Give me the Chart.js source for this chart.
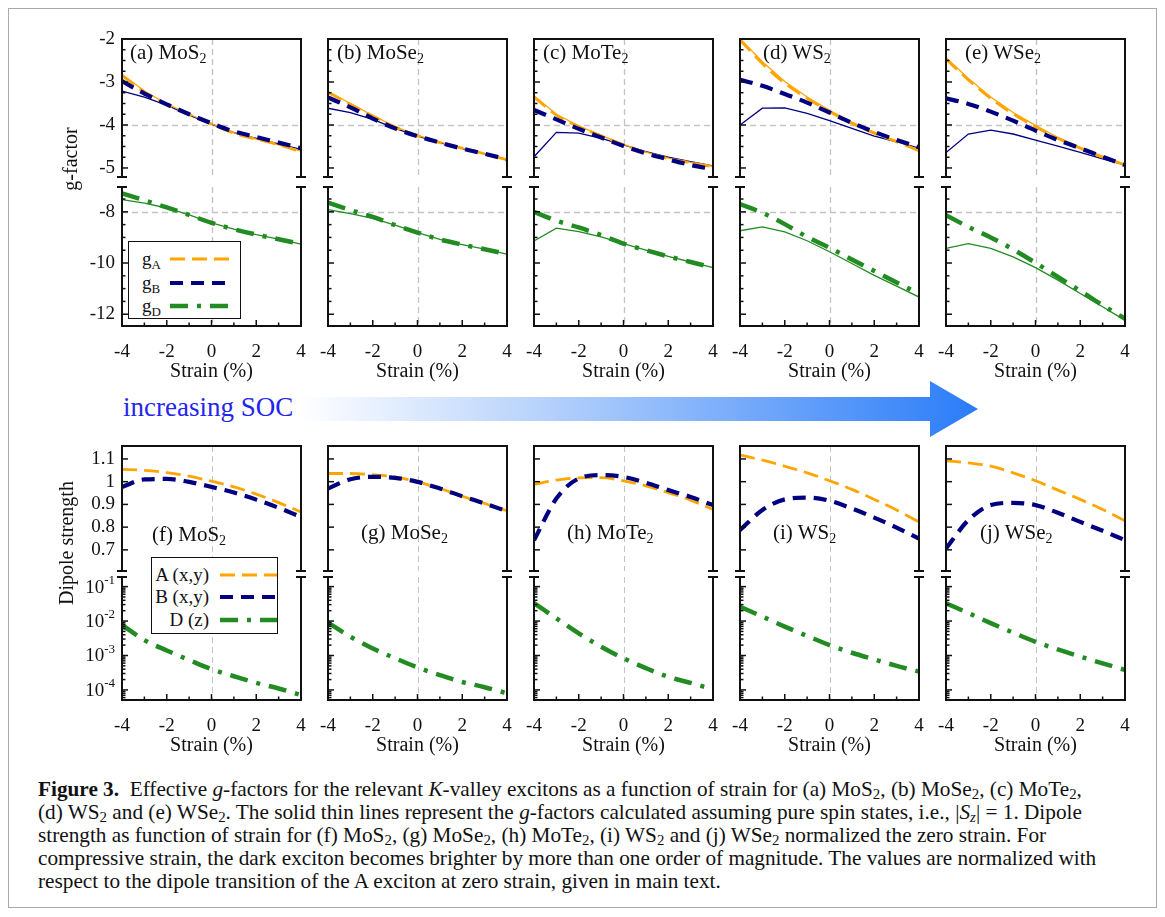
<!DOCTYPE html>
<html><head><meta charset="utf-8">
<script src="https://cdn.jsdelivr.net/npm/chart.js@4.4.1/dist/chart.umd.min.js"></script>
<style>
html,body{margin:0;padding:0;background:#fff;}
body{width:1165px;height:917px;position:relative;overflow:hidden;font-family:"Liberation Serif","Times New Roman",serif;color:#111;}
canvas{position:absolute;}
.plabel{position:absolute;white-space:nowrap;font-size:21px;line-height:22px;}
.plabel sub{font-size:14px;vertical-align:-4px;line-height:0;}
.ytitle{position:absolute;white-space:nowrap;font-size:20px;transform:translate(-50%,-50%) rotate(-90deg);}
.legend{position:absolute;background:#fff;border:1.5px solid #111;box-sizing:border-box;}
.legend .t{position:absolute;white-space:nowrap;font-size:19px;line-height:20px;}
.legend sub{font-size:13px;vertical-align:-4px;line-height:0;}
.legend svg{position:absolute;}
#frame{position:absolute;left:8px;top:8px;width:1149px;height:900px;border:1px solid #aaa;box-sizing:border-box;}
#caption{position:absolute;left:38px;top:778px;font-size:17.5px;line-height:23px;white-space:nowrap;}
#caption div{display:block;}
#caption sub{font-size:0.7em;vertical-align:-3px;line-height:0;}
#soc{position:absolute;left:123px;top:392px;font-size:27px;line-height:30px;color:#2424f0;white-space:nowrap;}
</style></head><body>
<div id="frame"></div>
<svg style="position:absolute;left:0;top:370px" width="1165" height="80">
 <defs><linearGradient id="ag" gradientUnits="userSpaceOnUse" x1="298" y1="0" x2="978" y2="0">
  <stop offset="0" stop-color="#ffffff"/><stop offset="0.35" stop-color="#b9d3fb"/><stop offset="1" stop-color="#2a7cf8"/></linearGradient></defs>
 <polygon points="298,27 930,27 930,11 978,39 930,67 930,51 298,51" fill="url(#ag)"/>
</svg>
<div id="soc">increasing SOC</div>
<div id="caption">
<div id="firstline"><b>Figure 3.</b>&nbsp;&nbsp;Effective <i>g</i>-factors for the relevant <i>K</i>-valley excitons as a function of strain for (a) MoS<sub>2</sub>, (b) MoSe<sub>2</sub>, (c) MoTe<sub>2</sub>,</div>
<div>(d) WS<sub>2</sub> and (e) WSe<sub>2</sub>. The solid thin lines represent the <i>g</i>-factors calculated assuming pure spin states, i.e., |<i>S<sub>z</sub></i>| = 1. Dipole</div>
<div>strength as function of strain for (f) MoS<sub>2</sub>, (g) MoSe<sub>2</sub>, (h) MoTe<sub>2</sub>, (i) WS<sub>2</sub> and (j) WSe<sub>2</sub> normalized the zero strain. For</div>
<div>compressive strain, the dark exciton becomes brighter by more than one order of magnitude. The values are normalized with</div>
<div>respect to the dipole transition of the A exciton at zero strain, given in main text.</div>
</div>
<script>
// ---------------- DATA ----------------
const STRAIN = [-4,-3,-2,-1,0,1,2,3,4];
const STRAIN_TICKS = [-4,-2,0,2,4];
const STRAIN_MINOR = [-3,-1,1,3];
const G_TOP_TICKS = [-5,-4,-3,-2];
const G_TOP_MINOR = [-5.25,-4.75,-4.5,-4.25,-3.75,-3.5,-3.25,-2.75,-2.5,-2.25];
const G_BOT_TICKS = [-12,-10,-8];
const G_BOT_MINOR = [-12.5,-11.5,-11,-10.5,-9.5,-9,-8.5,-7.5,-7];
const DIP_TICKS = [0.7,0.8,0.9,1,1.1];
const LOG_TICKS = [1e-4,1e-3,1e-2,1e-1];
const MATERIALS = ['MoS','MoSe','MoTe','WS','WSe'];
const G_LETTERS = ['a','b','c','d','e'];
const D_LETTERS = ['f','g','h','i','j'];

// g-factors (dashed = full calculation, *0 = pure spin, thin solid)
const MoS2_gA  = [-2.85,-3.23,-3.52,-3.75,-3.98,-4.19,-4.33,-4.46,-4.62];
const MoS2_gA0 = [-2.82,-3.21,-3.51,-3.75,-3.97,-4.18,-4.33,-4.46,-4.61];
const MoS2_gB  = [-2.98,-3.27,-3.52,-3.75,-3.96,-4.15,-4.28,-4.41,-4.54];
const MoS2_gB0 = [-3.21,-3.35,-3.54,-3.77,-3.98,-4.18,-4.31,-4.44,-4.57];
const MoS2_gD  = [-7.28,-7.55,-7.83,-8.12,-8.43,-8.68,-8.89,-9.07,-9.26];
const MoS2_gD0 = [-7.52,-7.66,-7.85,-8.12,-8.43,-8.68,-8.89,-9.07,-9.26];

const MoSe2_gA  = [-3.24,-3.52,-3.79,-4.05,-4.25,-4.41,-4.54,-4.67,-4.81];
const MoSe2_gA0 = [-3.22,-3.50,-3.78,-4.04,-4.24,-4.40,-4.54,-4.67,-4.80];
const MoSe2_gB  = [-3.36,-3.59,-3.85,-4.08,-4.26,-4.41,-4.55,-4.67,-4.80];
const MoSe2_gB0 = [-3.61,-3.71,-3.87,-4.08,-4.26,-4.41,-4.55,-4.67,-4.80];
const MoSe2_gD  = [-7.64,-7.93,-8.20,-8.52,-8.81,-9.08,-9.28,-9.46,-9.65];
const MoSe2_gD0 = [-7.91,-8.07,-8.26,-8.52,-8.81,-9.08,-9.28,-9.46,-9.65];

const MoTe2_gA  = [-3.35,-3.77,-4.04,-4.25,-4.46,-4.64,-4.78,-4.88,-4.97];
const MoTe2_gA0 = [-3.32,-3.75,-4.02,-4.24,-4.45,-4.63,-4.77,-4.87,-4.96];
const MoTe2_gB  = [-3.65,-3.87,-4.09,-4.29,-4.49,-4.66,-4.80,-4.93,-5.03];
const MoTe2_gB0 = [-4.74,-4.17,-4.19,-4.31,-4.46,-4.62,-4.75,-4.85,-4.95];
const MoTe2_gD  = [-8.00,-8.35,-8.61,-8.91,-9.24,-9.50,-9.74,-9.96,-10.18];
const MoTe2_gD0 = [-9.14,-8.64,-8.77,-8.98,-9.24,-9.50,-9.74,-9.96,-10.18];

const WS2_gA  = [-2.02,-2.57,-3.03,-3.38,-3.69,-3.96,-4.19,-4.39,-4.60];
const WS2_gA0 = [-1.99,-2.53,-2.99,-3.35,-3.66,-3.93,-4.17,-4.37,-4.58];
const WS2_gB  = [-2.95,-3.09,-3.28,-3.48,-3.71,-3.95,-4.16,-4.35,-4.52];
const WS2_gB0 = [-4.00,-3.61,-3.60,-3.73,-3.90,-4.08,-4.26,-4.39,-4.54];
const WS2_gD  = [-7.70,-8.04,-8.48,-8.98,-9.40,-9.86,-10.31,-10.76,-11.20];
const WS2_gD0 = [-8.74,-8.59,-8.78,-9.13,-9.56,-10.02,-10.48,-10.90,-11.33];

const WSe2_gA  = [-2.47,-2.95,-3.38,-3.74,-4.04,-4.31,-4.54,-4.75,-4.93];
const WSe2_gA0 = [-2.43,-2.92,-3.35,-3.71,-4.01,-4.29,-4.52,-4.73,-4.92];
const WSe2_gB  = [-3.38,-3.51,-3.69,-3.90,-4.13,-4.35,-4.54,-4.74,-4.93];
const WSe2_gB0 = [-4.64,-4.21,-4.12,-4.21,-4.35,-4.49,-4.64,-4.79,-4.93];
const WSe2_gD  = [-8.13,-8.59,-9.00,-9.47,-9.99,-10.54,-11.09,-11.65,-12.17];
const WSe2_gD0 = [-9.43,-9.24,-9.43,-9.76,-10.18,-10.67,-11.19,-11.71,-12.24];

// dipole strengths (normalized)
const MoS2_A  = [1.054,1.050,1.040,1.024,1.002,0.977,0.945,0.908,0.867];
const MoS2_B  = [0.977,1.010,1.012,0.999,0.977,0.952,0.921,0.885,0.845];
const MoS2_D  = [7.7e-3,2.8e-3,1.4e-3,7.4e-4,4.0e-4,2.5e-4,1.6e-4,1.1e-4,7.1e-5];
const MoSe2_A = [1.036,1.036,1.031,1.021,0.999,0.970,0.936,0.904,0.872];
const MoSe2_B = [0.970,1.011,1.021,1.017,0.999,0.970,0.936,0.904,0.870];
const MoSe2_D = [9.0e-3,3.5e-3,1.6e-3,8.3e-4,4.5e-4,2.7e-4,1.7e-4,1.2e-4,8.0e-5];
const MoTe2_A = [0.988,1.007,1.017,1.018,1.004,0.982,0.952,0.919,0.878];
const MoTe2_B = [0.742,0.926,1.014,1.029,1.021,0.995,0.963,0.933,0.897];
const MoTe2_D = [3.3e-2,1.2e-2,4.4e-3,1.8e-3,8.3e-4,4.3e-4,2.4e-4,1.6e-4,1.04e-4];
const WS2_A   = [1.117,1.095,1.068,1.039,1.004,0.966,0.922,0.875,0.823];
const WS2_B   = [0.787,0.875,0.922,0.930,0.916,0.882,0.842,0.798,0.750];
const WS2_D   = [2.6e-2,1.35e-2,6.9e-3,3.7e-3,2.0e-3,1.2e-3,7.7e-4,5.0e-4,3.4e-4];
const WSe2_A  = [1.092,1.083,1.068,1.039,1.004,0.963,0.922,0.878,0.828];
const WSe2_B  = [0.706,0.831,0.897,0.907,0.897,0.863,0.823,0.784,0.743];
const WSe2_D  = [3.3e-2,1.7e-2,8.7e-3,4.6e-3,2.5e-3,1.5e-3,9.3e-4,5.9e-4,3.8e-4];

const G_DATA = [
  [MoS2_gA,MoS2_gA0,MoS2_gB,MoS2_gB0,MoS2_gD,MoS2_gD0],
  [MoSe2_gA,MoSe2_gA0,MoSe2_gB,MoSe2_gB0,MoSe2_gD,MoSe2_gD0],
  [MoTe2_gA,MoTe2_gA0,MoTe2_gB,MoTe2_gB0,MoTe2_gD,MoTe2_gD0],
  [WS2_gA,WS2_gA0,WS2_gB,WS2_gB0,WS2_gD,WS2_gD0],
  [WSe2_gA,WSe2_gA0,WSe2_gB,WSe2_gB0,WSe2_gD,WSe2_gD0]
];
const D_DATA = [
  [MoS2_A,MoS2_B,MoS2_D],[MoSe2_A,MoSe2_B,MoSe2_D],[MoTe2_A,MoTe2_B,MoTe2_D],
  [WS2_A,WS2_B,WS2_D],[WSe2_A,WSe2_B,WSe2_D]
];

// ---------------- STYLE / LAYOUT ----------------
const FONT = "'Liberation Serif','Times New Roman',serif";
Chart.defaults.font.family = FONT;
Chart.defaults.color = '#111';
const ORANGE='#FFA500', NAVY='#000080', GREEN='#228B22', REF='#c4c4c4';
const STY = {
  A:  {borderColor:ORANGE,borderWidth:2.8,borderDash:[15,7],cubicInterpolationMode:'monotone'},
  B:  {borderColor:NAVY,borderWidth:4.2,borderDash:[13,8],cubicInterpolationMode:'monotone'},
  D:  {borderColor:GREEN,borderWidth:4.5,borderDash:[18,9,4,9],cubicInterpolationMode:'monotone'},
  A0: {borderColor:ORANGE,borderWidth:1.3,tension:0},
  B0: {borderColor:NAVY,borderWidth:1.3,tension:0},
  D0: {borderColor:GREEN,borderWidth:1.3,tension:0}
};
const COL_LEFT = [122,328,534,740,946];
const PW = 179, YW = 56, RP = 26, TP = 24, BP = 24, XH = 58, XBP = 4;

function ds(vals, st){
  return Object.assign({data: STRAIN.map((x,i)=>({x:x,y:vals[i]})), pointRadius:0, fill:false}, st);
}

const framePlugin = {
  id:'frame',
  beforeDatasetsDraw(chart){
    const o = chart.options.plugins.frame, ctx = chart.ctx, a = chart.chartArea;
    const x = chart.scales.x, y = chart.scales.y;
    ctx.save();
    ctx.strokeStyle = REF; ctx.lineWidth = o.refW || 1.3; ctx.setLineDash([6,4]);
    (o.refX||[]).forEach(v=>{const p=Math.round(x.getPixelForValue(v))+0.5;ctx.beginPath();ctx.moveTo(p,a.top);ctx.lineTo(p,a.bottom);ctx.stroke();});
    (o.refY||[]).forEach(v=>{const p=Math.round(y.getPixelForValue(v))+0.5;ctx.beginPath();ctx.moveTo(a.left,p);ctx.lineTo(a.right,p);ctx.stroke();});
    ctx.restore();
  },
  afterDraw(chart){
    const o = chart.options.plugins.frame, ctx = chart.ctx, a = chart.chartArea;
    const x = chart.scales.x, y = chart.scales.y;
    const L = a.left, R = a.right, T = a.top, B = a.bottom;
    const seg=(x1,y1,x2,y2)=>{ctx.beginPath();ctx.moveTo(x1,y1);ctx.lineTo(x2,y2);ctx.stroke();};
    ctx.save();
    ctx.strokeStyle='#111'; ctx.setLineDash([]);
    ctx.lineWidth=1.5;
    (o.yMajor||[]).forEach(v=>{const p=y.getPixelForValue(v); if(p>=T-0.5&&p<=B+0.5) seg(L,p,L+6,p);});
    (o.yMinor||[]).forEach(v=>{const p=y.getPixelForValue(v); if(p>=T-0.5&&p<=B+0.5) seg(L,p,L+3.5,p);});
    if (o.xTicks){
      STRAIN_TICKS.forEach(v=>{const p=x.getPixelForValue(v); seg(p,B,p,B-6);});
      STRAIN_MINOR.forEach(v=>{const p=x.getPixelForValue(v); seg(p,B,p,B-3.5);});
    }
    ctx.lineWidth=2;
    seg(L,T-(o.edge==='top'?1:0),L,B+(o.edge==='bottom'?1:0));
    seg(R,T-(o.edge==='top'?1:0),R,B+(o.edge==='bottom'?1:0));
    if (o.edge==='top') seg(L-1,T,R+1,T); else seg(L-1,B,R+1,B);
    const by = o.edge==='top' ? B : T;
    [L,R].forEach(bx=>seg(bx-5,by,bx+5,by));
    if (o.logLabels){
      ctx.fillStyle='#111'; ctx.textBaseline='middle';
      LOG_TICKS.forEach(v=>{
        const p=y.getPixelForValue(v), e=String(Math.round(Math.log10(v)));
        ctx.font="19px "+FONT; const w1=ctx.measureText('10').width;
        ctx.font="13px "+FONT; const w2=ctx.measureText(e).width;
        const xr=L-7, x0=xr-w1-w2;
        ctx.font="19px "+FONT; ctx.textAlign='left'; ctx.fillText('10',x0,p+1);
        ctx.font="13px "+FONT; ctx.fillText(e,x0+w1,p-6);
      });
    }
    ctx.restore();
  }
};

function makeChart(c){
  const cv=document.createElement('canvas');
  const W=YW+PW+RP, H=TP+c.plotH+(c.hasX?XH+XBP:BP);
  cv.width=W; cv.height=H;
  cv.style.left=(c.left-YW)+'px'; cv.style.top=(c.plotTop-TP)+'px';
  cv.style.width=W+'px'; cv.style.height=H+'px';
  document.body.appendChild(cv);
  new Chart(cv,{
    type:'line',
    data:{datasets:c.datasets},
    plugins:[framePlugin],
    options:{
      responsive:false, animation:false, devicePixelRatio:1,
      layout:{padding:{left:0,right:RP,top:TP,bottom:c.hasX?XBP:BP}},
      plugins:{legend:{display:false},tooltip:{enabled:false},
        frame:{edge:c.edge,yMajor:c.yTicks,yMinor:c.yMinor,xTicks:c.hasX,refX:[0],refY:c.refY,refW:c.refW,logLabels:c.logLabels}},
      scales:{
        x:{type:'linear',min:-4,max:4,display:c.hasX,
           afterBuildTicks:s=>{s.ticks=STRAIN_TICKS.map(v=>({value:v}));},
           afterFit:s=>{ if (s.options.display) s.height=XH; },
           grid:{display:false,drawTicks:false},border:{display:false},
           ticks:{font:{size:19},padding:15,color:'#111',maxRotation:0,autoSkip:false,callback:v=>String(v)},
           title:{display:true,text:'Strain (%)',font:{size:20},padding:{top:0,bottom:0},color:'#111'}},
        y:{type:c.yType,min:c.yMin,max:c.yMax,
           afterBuildTicks:s=>{s.ticks=c.yTicks.map(v=>({value:v}));},
           afterFit:s=>{s.width=YW;},
           grid:{display:false,drawTicks:false},border:{display:false},
           ticks:{display:c.showY,font:{size:19},padding:7,color:'#111',autoSkip:false,callback:v=>String(v)}}
      }
    }
  });
}

// ---------------- BUILD ----------------
const TOP1={t:39,b:177}, TOP2={t:187,b:326}, BOT1={t:446,b:571}, BOT2={t:577,b:700};
for(let c=0;c<5;c++){
  const g=G_DATA[c], d=D_DATA[c], left=COL_LEFT[c];
  makeChart({left,plotTop:TOP1.t,plotH:TOP1.b-TOP1.t,hasX:false,edge:'top',yType:'linear',yMin:-5.21,yMax:-2,
    yTicks:G_TOP_TICKS,yMinor:G_TOP_MINOR,showY:c===0,refY:[-4],
    datasets:[ds(g[2],STY.B),ds(g[0],STY.A),ds(g[1],STY.A0),ds(g[3],STY.B0)]});
  makeChart({left,plotTop:TOP2.t,plotH:TOP2.b-TOP2.t,hasX:true,edge:'bottom',yType:'linear',yMin:-12.46,yMax:-7.03,
    yTicks:G_BOT_TICKS,yMinor:G_BOT_MINOR,showY:c===0,refY:[-8],
    datasets:[ds(g[4],STY.D),ds(g[5],STY.D0)]});
  makeChart({left,plotTop:BOT1.t,plotH:BOT1.b-BOT1.t,hasX:false,edge:'top',yType:'linear',yMin:0.607,yMax:1.157,
    yTicks:DIP_TICKS,yMinor:[],showY:c===0,refY:[],refW:1,
    datasets:[ds(d[1],STY.B),ds(d[0],STY.A)]});
  makeChart({left,plotTop:BOT2.t,plotH:BOT2.b-BOT2.t,hasX:true,edge:'bottom',yType:'logarithmic',yMin:5.1e-5,yMax:0.19,
    yTicks:LOG_TICKS,yMinor:(function(){const m=[];for(let e=-5;e<0;e++)for(let k=2;k<10;k++)m.push(k*Math.pow(10,e));return m;})(),
    showY:false,logLabels:c===0,refY:[],refW:1,
    datasets:[ds(d[2],STY.D)]});
}

// panel labels
const G_OFF=[8,9,9,23,19], D_OFF=[30,33,33,33,34];
for(let c=0;c<5;c++){
  const a=document.createElement('div'); a.className='plabel';
  a.innerHTML='('+G_LETTERS[c]+') '+MATERIALS[c]+'<sub>2</sub>';
  a.style.left=(COL_LEFT[c]+G_OFF[c])+'px'; a.style.top='41px'; document.body.appendChild(a);
  const b=document.createElement('div'); b.className='plabel';
  b.innerHTML='('+D_LETTERS[c]+') '+MATERIALS[c]+'<sub>2</sub>';
  b.style.left=(COL_LEFT[c]+D_OFF[c])+'px'; b.style.top=(c===0?523:521)+'px'; document.body.appendChild(b);
}
function ytitle(txt,x,y){const e=document.createElement('div');e.className='ytitle';e.textContent=txt;e.style.left=x+'px';e.style.top=y+'px';document.body.appendChild(e);}
ytitle('g-factor',70,159);
ytitle('Dipole strength',66,543);

function legend(box,rows){
  const L=document.createElement('div'); L.className='legend';
  Object.assign(L.style,{left:box.x+'px',top:box.y+'px',width:box.w+'px',height:box.h+'px'});
  rows.forEach(r=>{
    const t=document.createElement('div'); t.className='t'; t.innerHTML=r.html;
    if(r.align==='right'){t.style.right=(box.w-r.tx)+'px';t.style.textAlign='right';} else t.style.left=r.tx+'px';
    t.style.top=(r.cy-box.y-11)+'px'; L.appendChild(t);
    const s=document.createElementNS('http://www.w3.org/2000/svg','svg');
    s.setAttribute('width',r.x2-r.x1); s.setAttribute('height',10);
    s.style.left=(r.x1-box.x-1.5)+'px'; s.style.top=(r.cy-box.y-6.5)+'px';
    const ln=document.createElementNS('http://www.w3.org/2000/svg','line');
    ln.setAttribute('x1',0);ln.setAttribute('x2',r.x2-r.x1);ln.setAttribute('y1',5);ln.setAttribute('y2',5);
    ln.setAttribute('stroke',r.st.borderColor);ln.setAttribute('stroke-width',r.st.borderWidth);
    ln.setAttribute('stroke-dasharray',r.st.borderDash.join(' '));
    s.appendChild(ln); L.appendChild(s);
  });
  document.body.appendChild(L);
}
legend({x:128,y:241,w:113,h:78},[
  {html:'g<sub>A</sub>',tx:13,cy:259,x1:170,x2:232,st:STY.A},
  {html:'g<sub>B</sub>',tx:13,cy:283,x1:170,x2:232,st:STY.B},
  {html:'g<sub>D</sub>',tx:13,cy:306,x1:170,x2:232,st:STY.D}
]);
legend({x:151,y:557,w:127,h:77},[
  {html:'A (x,y)',align:'right',tx:59,cy:575,x1:220,x2:277,st:STY.A},
  {html:'B (x,y)',align:'right',tx:59,cy:597,x1:220,x2:277,st:STY.B},
  {html:'D (z)',align:'right',tx:59,cy:620,x1:220,x2:277,st:STY.D}
]);

// caption: fit first line to the reference width
(function(){
  const first=document.getElementById('firstline'); const cap=document.getElementById('caption');
  first.style.display='inline-block';
  const w=first.getBoundingClientRect().width;
  const fs=17.5*1044/w;
  cap.style.fontSize=fs.toFixed(2)+'px';
  first.style.display='block';
})();
</script>
</body></html>
